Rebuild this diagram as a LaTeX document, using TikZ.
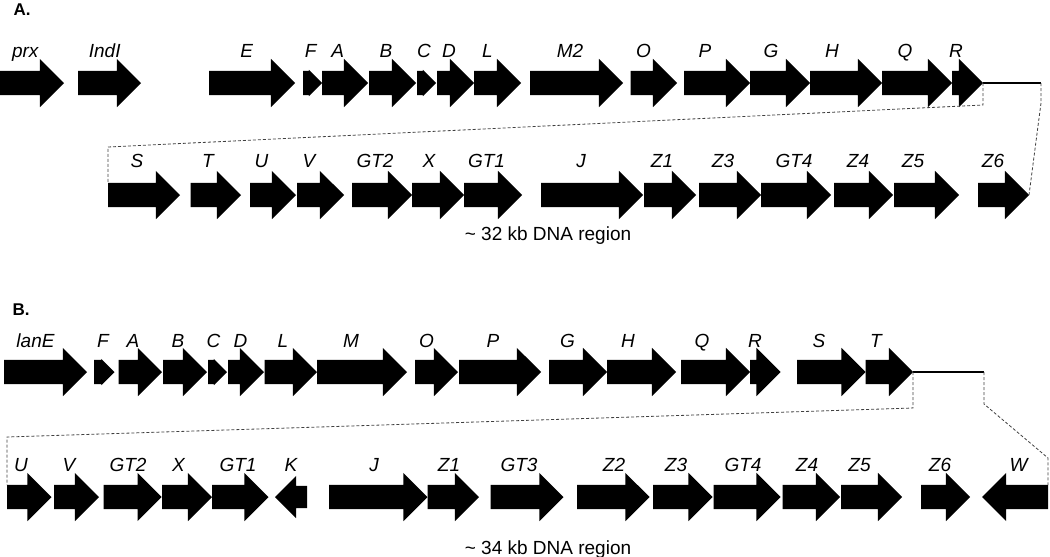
\documentclass[tikz,border=0pt]{standalone}
\usepackage{fontspec}
\setmainfont{Liberation Sans}
\usetikzlibrary{shapes.arrows}

\tikzset{
	gene/.style={single arrow, single arrow tip angle=90,
		single arrow head extend=12pt, inner xsep=0pt, inner ysep=12pt,
		minimum width=0pt, outer sep=0pt, fill=black, draw=none, anchor=tail},
	smallgene/.style={gene, single arrow head extend=1pt},
	lbl/.style={anchor=base, inner sep=0pt, font=\fontsize{19}{22}\selectfont\itshape},
	caption/.style={anchor=base, inner sep=0pt, font=\fontsize{19}{22}\selectfont},
	panel/.style={anchor=base west, inner sep=0pt, font=\fontsize{17}{20}\selectfont\bfseries},
	contig/.style={line width=2.4pt},
	zoomline/.style={line width=0.8pt, black!75, dash pattern=on 3pt off 2pt}
}

\begin{document}
\begin{tikzpicture}[x=1pt, y=-1pt]
		\useasboundingbox (0,0) rectangle (1050,557);

		% panel A, first line
		\node[panel] (pA) at (13.5,15.2) {A.};
		\node[gene, minimum height=64] (aprx) at (0,83) {};		\node[lbl] (taprx) at (25.3,57.4) {prx};
		\node[gene, minimum height=63] (aIndI) at (78,83) {};		\node[lbl] (taIndI) at (104.7,57.4) {IndI};
		\node[gene, minimum height=86] (aE) at (209,83) {};		\node[lbl] (taE) at (246.6,57.4) {E};
		\node[smallgene, minimum height=19] (aF) at (303,83) {};	\node[lbl] (taF) at (310.8,57.4) {F};
		\node[gene, minimum height=46] (aA) at (322,83) {};		\node[lbl] (taA) at (337.8,57.4) {A};
		\node[gene, minimum height=47] (aB) at (369,83) {};		\node[lbl] (taB) at (386,57.4) {B};
		\node[smallgene, minimum height=19] (aC) at (417,83) {};	\node[lbl] (taC) at (424,57.4) {C};
		\node[gene, minimum height=37] (aD) at (437,83) {};		\node[lbl] (taD) at (449,57.4) {D};
		\node[gene, minimum height=47] (aL) at (474,83) {};		\node[lbl] (taL) at (487.5,57.4) {L};
		\node[gene, minimum height=93] (aM2) at (530,83) {};		\node[lbl] (taM2) at (570,57.4) {M2};
		\node[gene, minimum height=46.5] (aO) at (630.5,83) {};	\node[lbl] (taO) at (643.6,57.4) {O};
		\node[gene, minimum height=66] (aP) at (684,83) {};		\node[lbl] (taP) at (705,57.4) {P};
		\node[gene, minimum height=60] (aG) at (750,83) {};		\node[lbl] (taG) at (771,57.4) {G};
		\node[gene, minimum height=72] (aH) at (810,83) {};		\node[lbl] (taH) at (832,57.4) {H};
		\node[gene, minimum height=70] (aQ) at (882,83) {};		\node[lbl] (taQ) at (905,57.4) {Q};
		\node[gene, minimum height=31] (aR) at (952,83) {};		\node[lbl] (taR) at (956,57.4) {R};

		% panel A, second line
		\node[gene, minimum height=72] (aS) at (108,195) {};		\node[lbl] (taS) at (137,167.3) {S};
		\node[gene, minimum height=50.5] (aT) at (190.5,195) {};	\node[lbl] (taT) at (208,167.3) {T};
		\node[gene, minimum height=46] (aU) at (250,195) {};		\node[lbl] (taU) at (261.5,167.3) {U};
		\node[gene, minimum height=47] (aV) at (297,195) {};		\node[lbl] (taV) at (309,167.3) {V};
		\node[gene, minimum height=60] (aGT2) at (352,195) {};		\node[lbl] (taGT2) at (375,167.3) {GT2};
		\node[gene, minimum height=52] (aX) at (412,195) {};		\node[lbl] (taX) at (429,167.3) {X};
		\node[gene, minimum height=58] (aGT1) at (464,195) {};		\node[lbl] (taGT1) at (486.5,167.3) {GT1};
		\node[gene, minimum height=102] (aJ) at (541,195) {};		\node[lbl] (taJ) at (581,167.3) {J};
		\node[gene, minimum height=52] (aZ1) at (644,195) {};		\node[lbl] (taZ1) at (662,167.3) {Z1};
		\node[gene, minimum height=62] (aZ3) at (699,195) {};		\node[lbl] (taZ3) at (723,167.3) {Z3};
		\node[gene, minimum height=70] (aGT4) at (761,195) {};		\node[lbl] (taGT4) at (794,167.3) {GT4};
		\node[gene, minimum height=59] (aZ4) at (834,195) {};		\node[lbl] (taZ4) at (858,167.3) {Z4};
		\node[gene, minimum height=65] (aZ5) at (894,195) {};		\node[lbl] (taZ5) at (913,167.3) {Z5};
		\node[gene, minimum height=51] (aZ6) at (978,195) {};		\node[lbl] (taZ6) at (993,167.3) {Z6};
		\node[caption] (capA) at (548,240) {\textasciitilde\ 32 kb DNA region};

		\coordinate (aend) at (1041,83);
		\coordinate (abend) at (108,147);
		\draw[contig] (aR.tip) -- (aend);
		\draw[zoomline] (aR.tip) -- ++(0,22) -- (abend) -- ([yshift=12pt]aS.tail);
		\draw[zoomline] (aend) -- ++(0,20) -- (aZ6.tip);

		% panel B, first line
		\node[panel] (pB) at (12.5,315.5) {B.};
		\node[gene, minimum height=83] (blanE) at (4,372) {};		\node[lbl] (tblanE) at (35.5,347.5) {lanE};
		\node[smallgene, minimum height=20.5] (bF) at (94,372) {};	\node[lbl] (tbF) at (103,347.5) {F};
		\node[gene, minimum height=43.5] (bA) at (118.5,372) {};	\node[lbl] (tbA) at (133,347.5) {A};
		\node[gene, minimum height=44] (bB) at (163,372) {};		\node[lbl] (tbB) at (178,347.5) {B};
		\node[smallgene, minimum height=19] (bC) at (208,372) {};	\node[lbl] (tbC) at (213.5,347.5) {C};
		\node[gene, minimum height=36] (bD) at (228,372) {};		\node[lbl] (tbD) at (240.5,347.5) {D};
		\node[gene, minimum height=52.5] (bL) at (264.5,372) {};	\node[lbl] (tbL) at (283,347.5) {L};
		\node[gene, minimum height=90] (bM) at (317,372) {};		\node[lbl] (tbM) at (351,347.5) {M};
		\node[gene, minimum height=43] (bO) at (415,372) {};		\node[lbl] (tbO) at (426.6,347.5) {O};
		\node[gene, minimum height=82] (bP) at (459,372) {};		\node[lbl] (tbP) at (493,347.5) {P};
		\node[gene, minimum height=58] (bG) at (549,372) {};		\node[lbl] (tbG) at (567.6,347.5) {G};
		\node[gene, minimum height=69] (bH) at (607,372) {};		\node[lbl] (tbH) at (628,347.5) {H};
		\node[gene, minimum height=69] (bQ) at (681,372) {};		\node[lbl] (tbQ) at (702,347.5) {Q};
		\node[gene, minimum height=30.5] (bR) at (750,372) {};		\node[lbl] (tbR) at (755,347.5) {R};
		\node[gene, minimum height=68.5] (bS) at (797,372) {};		\node[lbl] (tbS) at (819,347.5) {S};
		\node[gene, minimum height=47.5] (bT) at (865.5,372) {};	\node[lbl] (tbT) at (876,347.5) {T};

		% panel B, second line
		\node[gene, minimum height=44.5] (bU) at (7,497) {};		\node[lbl] (tbU) at (21,471.5) {U};
		\node[gene, minimum height=45] (bV) at (54,497) {};		\node[lbl] (tbV) at (69,471.5) {V};
		\node[gene, minimum height=58] (bGT2) at (103.7,497) {};	\node[lbl] (tbGT2) at (128,471.5) {GT2};
		\node[gene, minimum height=50] (bX) at (162,497) {};		\node[lbl] (tbX) at (178.4,471.5) {X};
		\node[gene, minimum height=56.5] (bGT1) at (212,497) {};	\node[lbl] (tbGT1) at (238,471.5) {GT1};
		\node[gene, minimum height=32, inner ysep=11pt, single arrow head extend=10pt,
			shape border rotate=180] (bK) at (307,497) {};			\node[lbl] (tbK) at (291,471.5) {K};
		\node[gene, minimum height=98.5] (bJ) at (329,497) {};		\node[lbl] (tbJ) at (374,471.5) {J};
		\node[gene, minimum height=51.5] (bZ1) at (427.5,497) {};	\node[lbl] (tbZ1) at (449,471.5) {Z1};
		\node[gene, minimum height=73] (bGT3) at (490.5,497) {};	\node[lbl] (tbGT3) at (519,471.5) {GT3};
		\node[gene, minimum height=72.5] (bZ2) at (577,497) {};	\node[lbl] (tbZ2) at (614,471.5) {Z2};
		\node[gene, minimum height=59.5] (bZ3) at (653,497) {};	\node[lbl] (tbZ3) at (676,471.5) {Z3};
		\node[gene, minimum height=67] (bGT4) at (713.5,497) {};	\node[lbl] (tbGT4) at (743,471.5) {GT4};
		\node[gene, minimum height=57.5] (bZ4) at (782.5,497) {};	\node[lbl] (tbZ4) at (807,471.5) {Z4};
		\node[gene, minimum height=61] (bZ5) at (841,497) {};		\node[lbl] (tbZ5) at (859.5,471.5) {Z5};
		\node[gene, minimum height=49] (bZ6) at (921,497) {};		\node[lbl] (tbZ6) at (940,471.5) {Z6};
		\node[gene, minimum height=66, shape border rotate=180] (bW) at (1048,497) {};	\node[lbl] (tbW) at (1018.6,471.5) {W};
		\node[caption] (capB) at (548,554) {\textasciitilde\ 34 kb DNA region};

		\coordinate (bend) at (984,372);
		\coordinate (bbend) at (7,437);
		\coordinate (bwbend) at (1048,458);
		\draw[contig] (bT.tip) -- (bend);
		\draw[zoomline] (bT.tip) -- ++(0,36) -- (bbend) -- ([yshift=12pt]bU.tail);
		\draw[zoomline] (bend) -- ++(0,32) -- (bwbend) -- ([yshift=12pt]bW.tail);

	\end{tikzpicture}
\end{document}
